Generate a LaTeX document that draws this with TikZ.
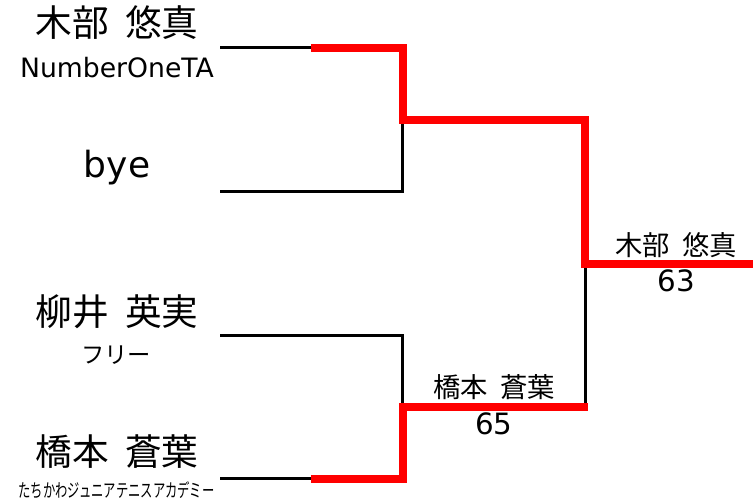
\documentclass[tikz,border=0pt]{standalone}
\usepackage{fontspec}
\setmainfont{DejaVu Sans}
\newfontfamily\jpfont{Noto Sans CJK JP}
\newcommand{\nsp}{\hspace{0.45em}}
\begin{document}
\begin{tikzpicture}[x=0.75pt,y=-0.75pt,
  every node/.style={inner sep=0pt, outer sep=0pt},
  bigname/.style={font=\jpfont\fontsize{27.5}{30}\selectfont},
  biglatin/.style={font=\fontsize{27}{30}\selectfont},
  clubname/.style={font=\fontsize{20}{24}\selectfont},
  clubjp/.style={font=\jpfont\fontsize{17.5}{20}\selectfont},
  clubsmall/.style={font=\jpfont\fontsize{14}{16}\selectfont},
  winname/.style={font=\jpfont\fontsize{20.5}{24}\selectfont},
  score/.style={font=\fontsize{22}{26}\selectfont},
  bline/.style={draw=black, line width=2.25pt},
  rline/.style={draw=red, line width=6pt, line join=miter}]
\useasboundingbox (0,0) rectangle (753,502);
% entrants
\node[bigname] (p1) at (117,22.5) {木部\nsp 悠真};
\node[clubname] (c1) at (117,68) {NumberOneTA};
\node[biglatin] (p2) at (117,168) {bye};
\node[bigname] (p3) at (117,312) {柳井\nsp 英実};
\node[clubjp] (c3) at (116,355) {フリー};
\node[bigname] (p4) at (117,452) {橋本\nsp 蒼葉};
\node[clubsmall] (c4) at (116.5,490.5) {\scalebox{0.66}[1]{たちかわジュニアテニスアカデミー}};
% winners
\node[winname] (w2) at (494,387.5) {橋本\nsp 蒼葉};
\node[score] (s2) at (494,424) {65};
\node[winname] (w3) at (676,245) {木部\nsp 悠真};
\node[score] (s3) at (676,281) {63};
% coordinates
\coordinate (a1) at (220,48);
\coordinate (m1) at (311,48);
\coordinate (a2) at (220,191.5);
\coordinate (k1t) at (402.5,48);
\coordinate (k1) at (402.5,120);
\coordinate (k1b) at (402.5,191.5);
\coordinate (a3) at (220,335);
\coordinate (a4) at (220,478.5);
\coordinate (m4) at (311,478.5);
\coordinate (k2t) at (402.5,335);
\coordinate (k2) at (402.5,407);
\coordinate (k2b) at (402.5,478.5);
\coordinate (f) at (585,120);
\coordinate (fm) at (585,264);
\coordinate (fb) at (585,407);
\coordinate (fe) at (753,264);
% black lines
\draw[bline] (a1) -- (m1);
\draw[bline] (a2) -- (k1b) -- (k1);
\draw[bline] (a3) -- (k2t) -- (k2);
\draw[bline] (a4) -- (m4);
\draw[bline] (fm) -- (fb);
% red winning paths
\draw[rline] (m1) -- (k1t) -- (k1) -- (f) -- (fm) -- (fe);
\draw[rline] (m4) -- (k2b) -- (k2) -- ([xshift=2pt]fb);
\end{tikzpicture}
\end{document}
